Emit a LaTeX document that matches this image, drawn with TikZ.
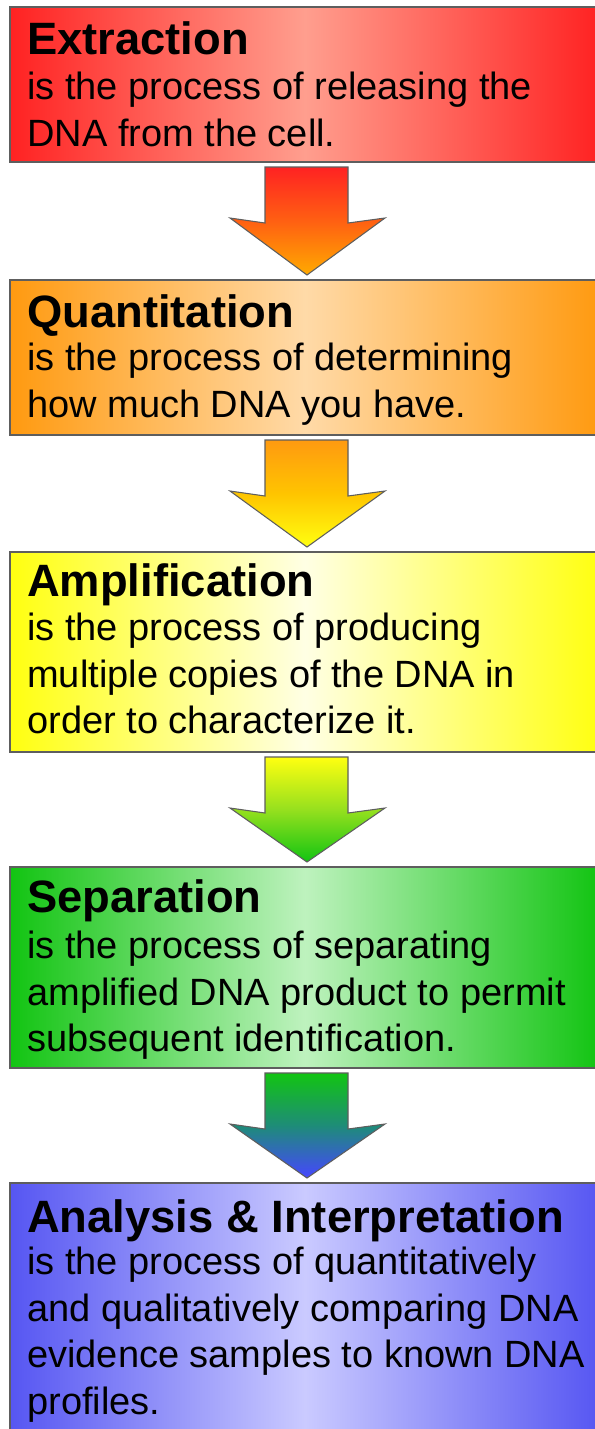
\documentclass[tikz,border=0pt]{standalone}
\usepackage{fontspec}
\setmainfont{Liberation Sans}
\usepackage{xcolor}
\usetikzlibrary{calc}
\definecolor{extred}{HTML}{FF2222}
\definecolor{extlight}{HTML}{FF9E8E}
\definecolor{quantorange}{HTML}{FF9A10}
\definecolor{quantlight}{HTML}{FFDAA8}
\definecolor{ampyellow}{HTML}{FFFF10}
\definecolor{amplight}{HTML}{FFFFE4}
\definecolor{sepgreen}{HTML}{12C412}
\definecolor{seplight}{HTML}{BEF2BE}
\definecolor{anablue}{HTML}{5656F2}
\definecolor{analight}{HTML}{CACAFF}
\definecolor{tipamber}{HTML}{FFAA00}
\definecolor{redorange}{HTML}{FF6012}
\definecolor{goldmid}{HTML}{FFC400}
\definecolor{limemid}{HTML}{96E01E}
\definecolor{tealmid}{HTML}{1E8C78}
\definecolor{tipblue}{HTML}{4646FF}
\definecolor{edgegray}{HTML}{5E5E5E}

\begin{document}
\begin{tikzpicture}[x=0.75pt, y=-0.75pt,
  stepbox/.style={
    rectangle, draw=edgegray, line width=1.2pt,
    inner sep=0pt, outer sep=0pt, anchor=north west,
    minimum width=442.5pt},
  headline/.style={anchor=base west, inner sep=0pt,
    font=\fontsize{34}{40}\selectfont\bfseries},
  bodyline/.style={anchor=base west, inner sep=0pt,
    font=\fontsize{28.5}{34}\selectfont},
  flow/.style={draw=edgegray, line width=0.8pt, line join=miter},
]
  \useasboundingbox (0,0) rectangle (594,1429);

  % Boxes
  \node[stepbox, minimum height=116.25pt,
    left color=extred, right color=extred, middle color=extlight] (ext) at (10,7) {};
  \node[stepbox, minimum height=116.25pt,
    left color=quantorange, right color=quantorange, middle color=quantlight] (quant) at (10,280) {};
  \node[stepbox, minimum height=150pt,
    left color=ampyellow, right color=ampyellow, middle color=amplight] (amp) at (10,552) {};
  \node[stepbox, minimum height=150.75pt,
    left color=sepgreen, right color=sepgreen, middle color=seplight] (sep) at (10,867) {};
  \node[stepbox, minimum height=192.75pt,
    left color=anablue, right color=anablue, middle color=analight] (ana) at (10,1183) {};

  % Titles
  \node[headline] (extHead) at ($(ext.north west)+(17,47)$) {Extraction};
  \node[headline] (quantHead) at ($(quant.north west)+(17,47)$) {Quantitation};
  \node[headline] (ampHead) at ($(amp.north west)+(17,44)$) {Amplification};
  \node[headline] (sepHead) at ($(sep.north west)+(17,45)$) {Separation};
  \node[headline] (anaHead) at ($(ana.north west)+(17,49)$) {Analysis \& Interpretation};

  % Descriptions
  \foreach \txt [count=\i] in {is the process of releasing the, DNA from the cell.}
    \node[bodyline] (extLine\i) at ($(ext.north west)+(17,46+46.5*\i)$) {\txt};
  \foreach \txt [count=\i] in {is the process of determining, how much DNA you have.}
    \node[bodyline] (quantLine\i) at ($(quant.north west)+(17,44+46.5*\i)$) {\txt};
  \foreach \txt [count=\i] in {is the process of producing,
      multiple copies of the DNA in, order to characterize it.}
    \node[bodyline] (ampLine\i) at ($(amp.north west)+(17,42+46.5*\i)$) {\txt};
  \foreach \txt [count=\i] in {is the process of separating,
      amplified DNA product to permit, subsequent identification.}
    \node[bodyline] (sepLine\i) at ($(sep.north west)+(17,45+46.5*\i)$) {\txt};
  \foreach \txt [count=\i] in {is the process of quantitatively,
      and qualitatively comparing DNA, evidence samples to known DNA, profiles.}
    \node[bodyline] (anaLine\i) at ($(ana.north west)+(17,45+46.5*\i)$) {\txt};

  % Block arrows
  \foreach \a/\b/\c/\m/\d in {ext/quant/extred/redorange/tipamber,
      quant/amp/quantorange/goldmid/ampyellow,
      amp/sep/ampyellow/limemid/sepgreen,
      sep/ana/sepgreen/tealmid/tipblue}
    \draw[flow, top color=\c, bottom color=\d, middle color=\m]
      ($(\a.south west)+(255,5)$) -- ($(\a.south west)+(338,5)$)
      -- ($(\a.south west)+(338,61)$) -- ($(\a.south west)+(375,56)$)
      -- ($(\b.north west)+(297,-5)$)
      -- ($(\a.south west)+(220,56)$) -- ($(\a.south west)+(255,61)$)
      -- cycle;
\end{tikzpicture}
\end{document}
